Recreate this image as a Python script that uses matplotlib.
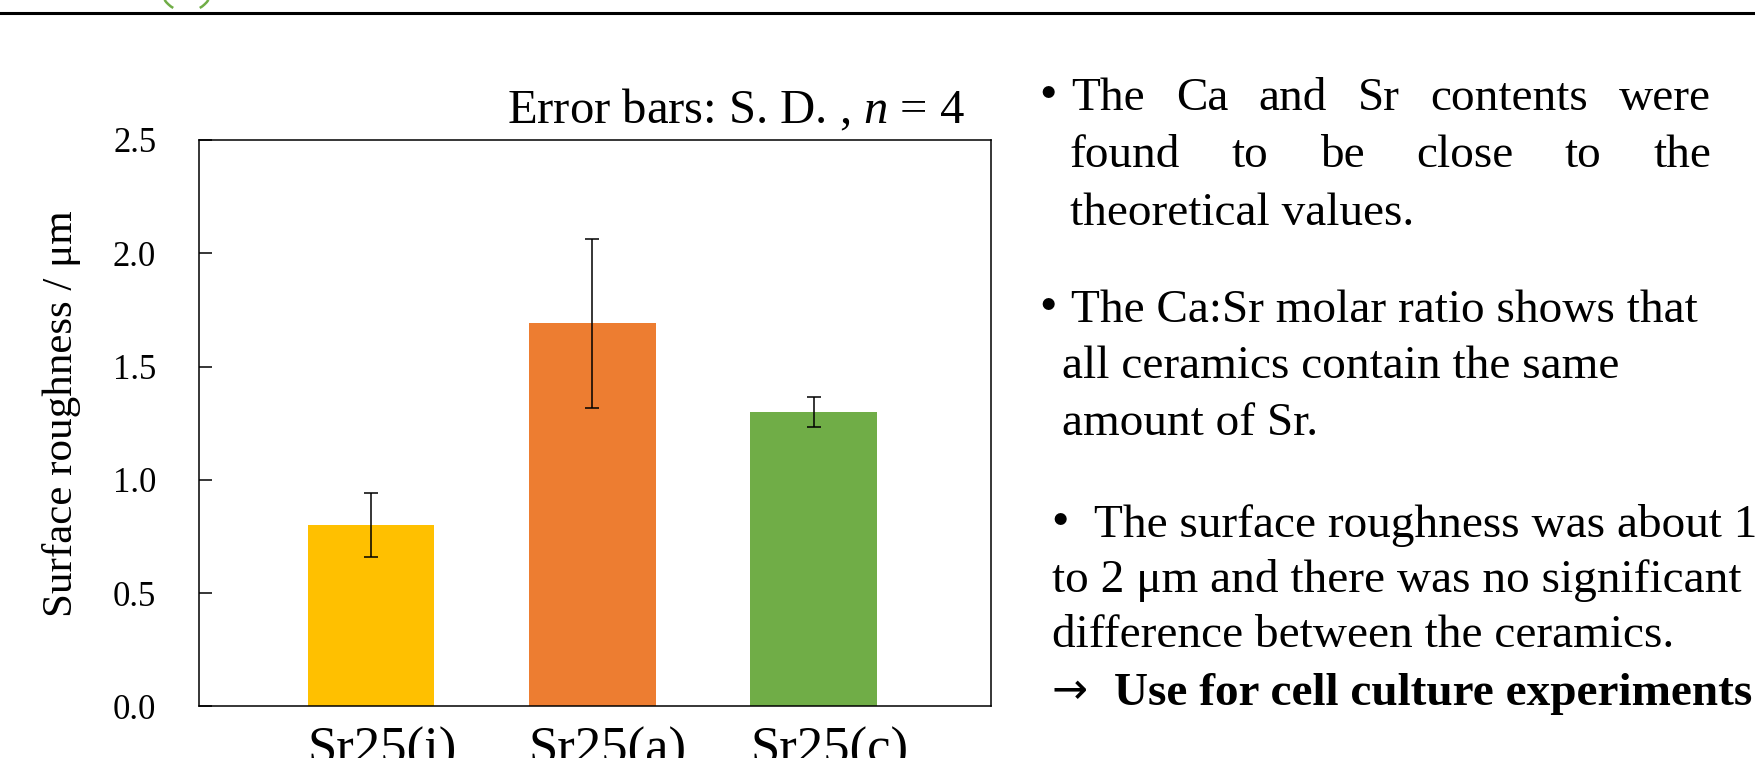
import numpy as np
import matplotlib
matplotlib.use("Agg")
import matplotlib.pyplot as plt
from matplotlib.lines import Line2D
from matplotlib.patches import Arc

plt.rcParams['font.family'] = ['Liberation Serif', 'Noto Sans CJK JP', 'DejaVu Sans']
plt.rcParams['mathtext.fontset'] = 'custom'
plt.rcParams['mathtext.rm'] = 'Liberation Serif'
plt.rcParams['mathtext.it'] = 'Liberation Serif:italic'

# data
samples = ["Sr25(i)", "Sr25(a)", "Sr25(c)"]
roughness = [0.80, 1.69, 1.30]
roughness_sd = [0.143, 0.372, 0.067]
bar_colors = ["#FFC000", "#ED7D31", "#70AD47"]
yticks = [0.0, 0.5, 1.0, 1.5, 2.0, 2.5]

W, H = 1755, 758
fig = plt.figure(figsize=(W / 100, H / 100), dpi=100)


def fx(px):
    return px / W


def fy(py):
    return 1 - py / H


# axes box in pixel terms
left, right, top, bottom = 199.2, 990.6, 140.0, 706.3
ax = fig.add_axes([fx(left), fy(bottom), fx(right - left), (bottom - top) / H])

x = np.arange(len(samples))
width = 0.572
ax.bar(x, roughness, width=width, color=bar_colors, yerr=roughness_sd,
       error_kw=dict(ecolor="black", elinewidth=1.1, capsize=5, capthick=1.1))

ax.set_xlim(-0.776, 2.8)
ax.set_ylim(0, 2.5)
ax.set_yticks(yticks)
ax.set_yticklabels([f"{v:.1f}" for v in yticks], fontsize=25)
ax.tick_params(axis="y", direction="in", length=9, width=1.1, pad=31)

# category labels sit left-aligned with the bars' left edges
ax.set_xticks(x - width / 2)
ax.set_xticklabels(samples, fontsize=38, ha="left")
ax.tick_params(axis="x", length=0, pad=15)

for sp in ax.spines.values():
    sp.set_linewidth(1.1)
    sp.set_color("black")

fig.text(fx(62), fy(414), "Surface roughness / \u03bcm", rotation=90,
         ha="center", va="center", fontsize=31)
fig.text(fx(965), fy(123), "Error bars: S. D. , $n$ = 4", ha="right",
         va="baseline", fontsize=35)

# slide decoration: top rule and the clipped green logo
fig.add_artist(Line2D([0, 1], [fy(13), fy(13)], color="black", linewidth=2.2,
                      transform=fig.transFigure))
for t1, t2 in [(214, 240), (300, 326)]:
    fig.add_artist(Arc((186.5 / 100, (H + 15) / 100), 0.53, 0.53, theta1=t1,
                       theta2=t2, color="#70AD47", linewidth=1.8,
                       transform=fig.dpi_scale_trans))

# right-hand notes
fs = 34
renderer = fig.canvas.get_renderer()


def line(text, x0, y, **kw):
    kw.setdefault("fontsize", fs)
    return fig.text(fx(x0), fy(y), text, ha="left", va="baseline", **kw)


def bullet(x0, y):
    # full-width katakana middle dot; returns where the following text starts
    t = line("\u30fb", x0, y, family=["Noto Sans CJK JP"], fontweight="bold")
    return x0 + t.get_window_extent(renderer).width


def justified(words, x0, x1, y):
    items = [line(w, x0, y) for w in words]
    widths = [t.get_window_extent(renderer).width for t in items]
    gap = (x1 - x0 - sum(widths)) / (len(words) - 1)
    pos = x0
    for t, w in zip(items, widths):
        t.set_x(fx(pos))
        pos += w + gap


xs = bullet(1024, 110)
justified(["The", "Ca", "and", "Sr", "contents", "were"], xs, 1711, 110)
justified(["found", "to", "be", "close", "to", "the"], 1069.5, 1711, 166.7)
line("theoretical values.", 1069.5, 225)

xs = bullet(1024, 321.7)
line("The Ca:Sr molar ratio shows that", xs, 321.7)
line("all ceramics contain the same", 1061.6, 378.3)
line("amount of Sr.", 1061.6, 435)

xs = bullet(1036, 537)
line(" The surface roughness was about 1", xs, 537)
line("to 2 \u03bcm and there was no significant", 1052, 592)
line("difference between the ceramics.", 1052, 647)
line("\u2192", 1051, 703, fontsize=31, family=["DejaVu Sans"])
line("Use for cell culture experiments", 1114, 705, fontweight="bold")

fig.savefig("out.png", dpi=100)
